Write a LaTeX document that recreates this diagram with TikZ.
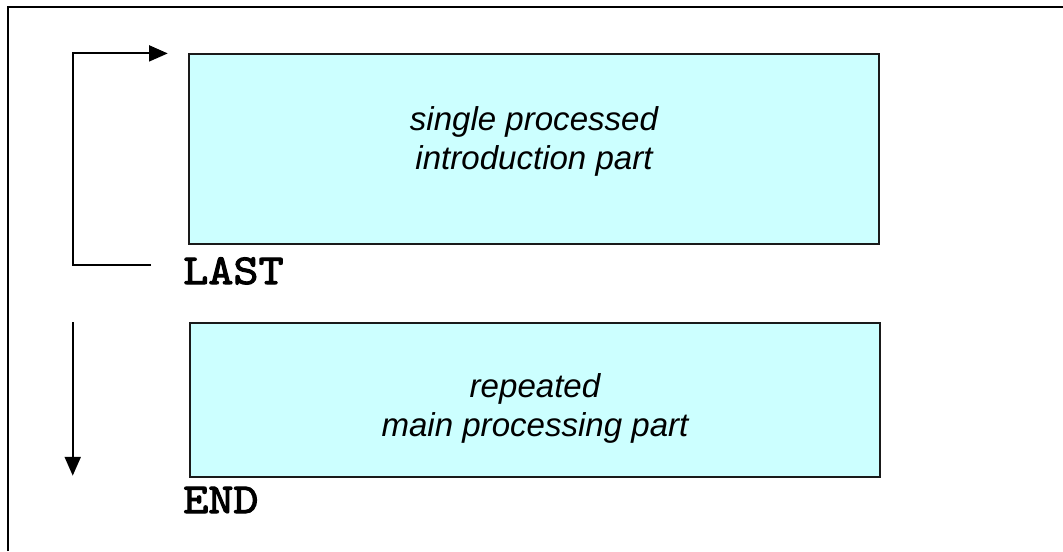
\documentclass[tikz,border=0pt]{standalone}
\usepackage{fontspec}
\setmainfont{Liberation Sans}
\newfontfamily\kwfont[Extension=.otf, FakeBold=2.5, FakeStretch=1.12]{lmmono10-regular}
\usepackage{tikz}
\usetikzlibrary{arrows.meta, positioning, calc}
\usepackage{xcolor}
\definecolor{boxcyan}{HTML}{CCFFFF}
\definecolor{boxedge}{HTML}{1A1A1A}

\begin{document}
\begin{tikzpicture}[
  x=0.75pt, y=-0.75pt,
  procbox/.style={draw=boxedge, line width=1.4pt, fill=boxcyan,
    minimum width=518pt, inner sep=0pt},
  boxtext/.style={font=\fontsize{24.8}{29.3}\selectfont\itshape,
    align=center, inner sep=0pt},
  keyword/.style={font=\fontsize{32}{32}\selectfont\kwfont,
    anchor=base west, inner sep=0pt},
  flow/.style={line width=1.4pt, -{Triangle[length=14pt, width=12pt]}},
  >=Stealth
]
  \useasboundingbox (0,0) rectangle (1063,551);

  % Outer frame (only left and top edges visible)
  \draw[line width=2pt] (8,551) -- (8,7) -- (1063,7);

  % Boxes
  \node[procbox, minimum height=142pt] (intro) at (534,149) {};
  \node[procbox, minimum height=115pt] (main) at (535,400) {};

  \node[boxtext] (introtxt) at ($(intro.center)+(0,-8)$)
    {single processed\\introduction part};
  \node[boxtext] (maintxt) at ($(main.center)+(0,8.5)$)
    {repeated\\main processing part};

  % Keywords
  \node[keyword] (last) at (183,284) {LAST};
  \node[keyword] (end) at (183,513) {END};

  % Loop back to the introduction part
  \coordinate (loopin) at ($(intro.north west)+(-20,0)$);
  \coordinate (loopout) at (151,265);
  \coordinate (loopleft) at (73,265);
  \draw[flow] (loopout) -- (loopleft) -- (loopleft |- loopin) -- (loopin);

  % Way out after the main part
  \coordinate (downtop) at ($(main.north west)+(-116,0)$);
  \coordinate (downend) at ($(main.south west)+(-116,-2)$);
  \draw[flow] (downtop) -- (downend);
\end{tikzpicture}
\end{document}
